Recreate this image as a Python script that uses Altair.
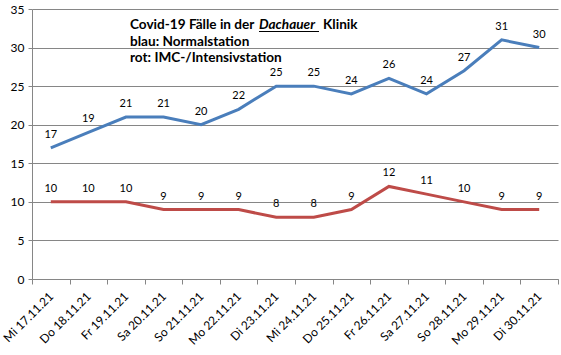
import altair as alt
import pandas as pd

dates = ["Mi 17.11.21", "Do 18.11.21", "Fr 19.11.21", "Sa 20.11.21", "So 21.11.21",
         "Mo 22.11.21", "Di 23.11.21", "Mi 24.11.21", "Do 25.11.21", "Fr 26.11.21",
         "Sa 27.11.21", "So 28.11.21", "Mo 29.11.21", "Di 30.11.21"]
normal = [17, 19, 21, 21, 20, 22, 25, 25, 24, 26, 24, 27, 31, 30]
imc = [10, 10, 10, 9, 9, 9, 8, 8, 9, 12, 11, 10, 9, 9]
series = ["Normalstation", "IMC-/Intensivstation"]
colors = ["#4A7EBB", "#BE4B48"]

df = pd.DataFrame({
    "datum": dates * 2,
    "wert": normal + imc,
    "station": [series[0]] * len(dates) + [series[1]] * len(dates),
})

FONT = "Lato"
W, H = 526, 270

x = alt.X("datum:N", sort=dates,
          scale=alt.Scale(type="band", paddingInner=0, paddingOuter=0),
          axis=alt.Axis(title=None, labelAngle=-45, labelAlign="right", labelBaseline="middle",
                        tickBand="extent", tickSize=5, labelPadding=10, labelFontSize=12,
                        labelFont=FONT, labelColor="#000000", domainColor="#868686",
                        tickColor="#868686", grid=False))
y = alt.Y("wert:Q", scale=alt.Scale(domain=[0, 35], nice=False),
          axis=alt.Axis(title=None, values=[0, 5, 10, 15, 20, 25, 30, 35], tickSize=4,
                        labelPadding=4, labelFontSize=12, labelFont=FONT, labelColor="#000000",
                        domainColor="#868686", tickColor="#868686", gridColor="#868686",
                        gridWidth=1))
color = alt.Color("station:N", scale=alt.Scale(domain=series, range=colors), legend=None)

base = alt.Chart(df).encode(x=x, y=y)
lines = base.mark_line(strokeWidth=3).encode(color=color, detail="station:N")
labels = base.mark_text(dy=-13, fontSize=11, font=FONT, color="#000000").encode(text="wert:Q")

title_font = dict(font=FONT, fontSize=13.6, fontWeight="bold", color="#000000",
                  align="left", baseline="alphabetic")
t1 = alt.Chart(pd.DataFrame({"t": ["Covid-19 Fälle in der"]})).mark_text(**title_font).encode(
    text="t:N", x=alt.value(98), y=alt.value(20))
t1b = alt.Chart(pd.DataFrame({"t": ["Dachauer"]})).mark_text(fontStyle="italic", **title_font).encode(
    text="t:N", x=alt.value(227), y=alt.value(20))
t1c = alt.Chart(pd.DataFrame({"t": ["Klinik"]})).mark_text(**title_font).encode(
    text="t:N", x=alt.value(291), y=alt.value(20))
ul = alt.Chart(pd.DataFrame({"a": [0]})).mark_rule(color="#000000", strokeWidth=1).encode(
    x=alt.value(227), x2=alt.value(287), y=alt.value(22.5))
t2 = alt.Chart(pd.DataFrame({"t": ["blau: Normalstation"]})).mark_text(**title_font).encode(
    text="t:N", x=alt.value(98), y=alt.value(37))
t3 = alt.Chart(pd.DataFrame({"t": ["rot: IMC-/Intensivstation"]})).mark_text(**title_font).encode(
    text="t:N", x=alt.value(98), y=alt.value(53))

chart = alt.layer(lines, labels, t1, t1b, t1c, ul, t2, t3).properties(
    width=W, height=H,
    autosize=alt.AutoSizeParams(type="none"),
    padding={"left": 32, "top": 9, "right": 3, "bottom": 76},
    background="#ffffff",
).configure_view(stroke=None)

chart.save("out.html", embed_options={"renderer": "svg", "actions": False})
